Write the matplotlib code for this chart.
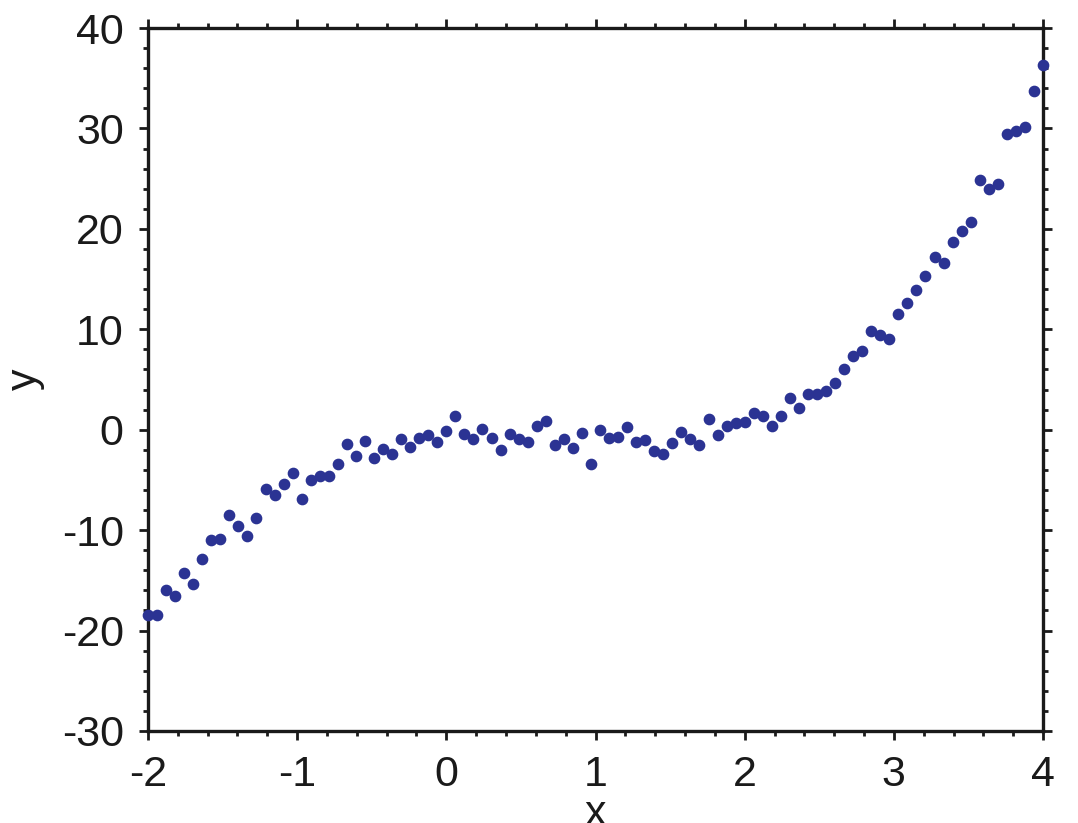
import numpy as np
import matplotlib.pyplot as plt
from matplotlib.ticker import MultipleLocator

# data (100 evenly spaced x values from -2 to 4)
x = np.linspace(-2, 4, 100)
y = [
    -18.4, -18.4, -16.0, -16.6, -14.3, -15.4, -12.9, -11.0, -10.9, -8.5,
    -9.6, -10.6, -8.8, -5.9, -6.5, -5.4, -4.3, -6.9, -5.0, -4.6,
    -4.6, -3.4, -1.4, -2.6, -1.1, -2.8, -1.9, -2.4, -0.9, -1.7,
    -0.8, -0.5, -1.2, -0.1, 1.4, -0.4, -0.9, 0.1, -0.8, -2.0,
    -0.4, -0.9, -1.2, 0.4, 0.9, -1.5, -0.9, -1.8, -0.3, -3.4,
    0.0, -0.8, -0.7, 0.3, -1.2, -1.0, -2.1, -2.4, -1.3, -0.2,
    -0.9, -1.5, 1.1, -0.5, 0.4, 0.7, 0.8, 1.7, 1.4, 0.4,
    1.4, 3.2, 2.2, 3.6, 3.6, 3.9, 4.7, 6.0, 7.3, 7.8,
    9.8, 9.4, 9.0, 11.5, 12.6, 13.9, 15.3, 17.2, 16.6, 18.7,
    19.8, 20.7, 24.9, 24.0, 24.5, 29.4, 29.7, 30.1, 33.7, 36.3,
]
xticks = [-2, -1, 0, 1, 2, 3, 4]
yticks = [-30, -20, -10, 0, 10, 20, 30, 40]

plt.rcParams["font.family"] = ["Liberation Sans", "DejaVu Sans"]

fig = plt.figure(figsize=(10.78, 8.23), dpi=100)
ax = fig.add_axes([148 / 1078, 1 - 731 / 823, (1043 - 148) / 1078, (731 - 28) / 823])

ax.plot(x, y, "o", color="#2b3393", markersize=7.4, clip_on=False, zorder=3)

ax.set_xlim(-2, 4)
ax.set_ylim(-30, 40)
ax.set_xticks(xticks)
ax.set_yticks(yticks)
ax.set_xticklabels([str(v) for v in xticks])
ax.set_yticklabels([str(v) for v in yticks])
ax.xaxis.set_minor_locator(MultipleLocator(0.2))
ax.yaxis.set_minor_locator(MultipleLocator(2))

for s in ax.spines.values():
    s.set_linewidth(2.4)
    s.set_color("#1a1a1a")

ax.tick_params(which="both", direction="out", top=True, right=True,
               labeltop=False, labelright=False, color="#1a1a1a")
ax.tick_params(which="major", length=6.5, width=2.0, labelsize=31, pad=11,
               labelcolor="#1a1a1a")
ax.tick_params(which="minor", length=3.5, width=2.0)

ax.set_xlabel("x", fontsize=31, color="#1a1a1a", labelpad=-1)
ax.set_ylabel("y", fontsize=31, color="#1a1a1a", labelpad=12)

fig.savefig("out.png", dpi=100)
